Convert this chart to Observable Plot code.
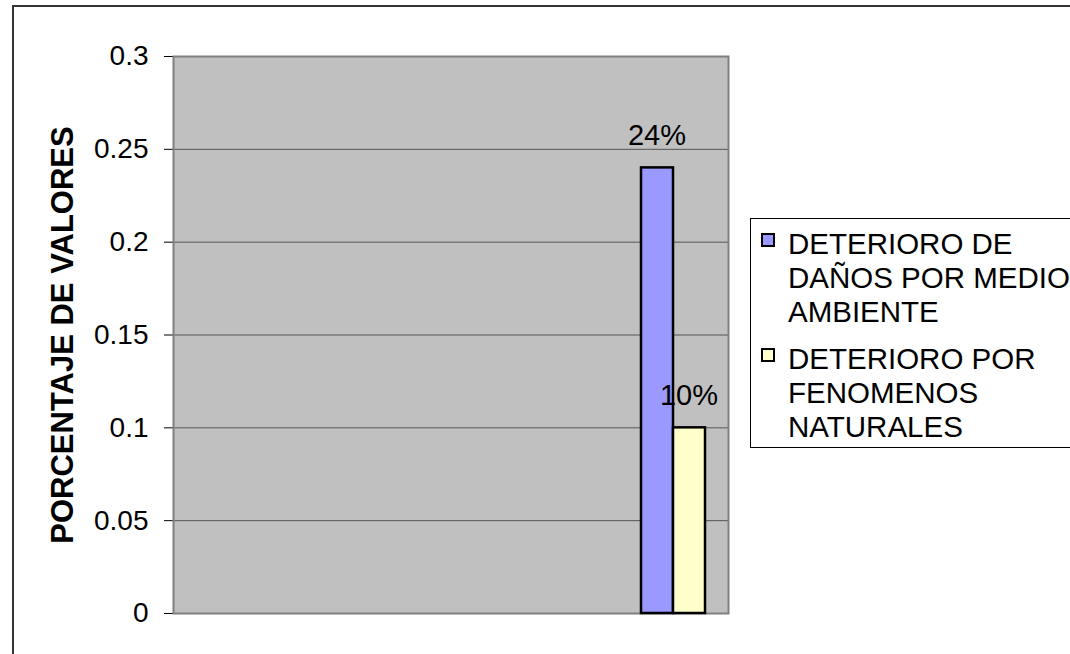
<!DOCTYPE html>
<html><head><meta charset="utf-8">
<script src="https://cdn.jsdelivr.net/npm/d3@7"></script>
<script src="https://cdn.jsdelivr.net/npm/@observablehq/plot@0.6"></script>
<style>
body{margin:0;background:#fff;font-family:"Liberation Sans",Arial,sans-serif;}
#wrap{position:relative;width:1070px;height:654px;overflow:hidden;background:#fff;}
#border{position:absolute;left:12px;top:5px;width:1100px;height:700px;border:2px solid #333;}
#chart{position:absolute;left:0;top:0;}
#legend{position:absolute;left:750px;top:218px;width:340px;height:228px;border:1px solid #000;background:#fff;}
.item{position:absolute;left:0;}
.sw{position:absolute;left:10px;width:10px;height:10px;border:2px solid #000;}
.lt{position:absolute;left:37px;width:292px;font-size:29.5px;line-height:34px;color:#000;}
</style>
</head><body>
<div id="wrap"><div id="border"></div><div id="chart"></div><div id="legend"></div></div>
<script>
const categories = ["1", "2", "3", "4", "5"];
const seriesNames = ["DETERIORO DE DAÑOS POR MEDIO AMBIENTE", "DETERIORO POR FENOMENOS NATURALES"];
const danosMedioAmbiente = [null, null, null, null, 0.24];
const fenomenosNaturales = [null, null, null, null, 0.10];
const yTicks = [0, 0.05, 0.1, 0.15, 0.2, 0.25, 0.3];
const yLabel = "PORCENTAJE DE VALORES";
const seriesColors = ["#9999ff", "#ffffcc"];

const rowsA = categories.map((c, i) => ({category: c, value: danosMedioAmbiente[i]})).filter(d => d.value != null);
const rowsB = categories.map((c, i) => ({category: c, value: fenomenosNaturales[i]})).filter(d => d.value != null);
const pct = d => Math.round(d.value * 100) + "%";

const chart = Plot.plot({
  width: 1070, height: 654,
  marginLeft: 173, marginRight: 342, marginTop: 56, marginBottom: 41,
  style: {fontFamily: '"Liberation Sans", Arial, sans-serif', fontSize: "28px", background: "transparent", color: "#000", overflow: "visible"},
  x: {domain: categories, padding: 0, axis: null},
  y: {domain: [0, 0.3], ticks: yTicks, tickFormat: d => String(+d.toFixed(2)), tickSize: 9, tickPadding: 16, label: null},
  marks: [
    Plot.frame({fill: "#c0c0c0"}),
    Plot.ruleY(yTicks.slice(1, -1), {stroke: "#555", strokeWidth: 1}),
    Plot.frame({stroke: "#808080", strokeWidth: 2}),
    Plot.barY(rowsA, {x: "category", y: "value", fill: seriesColors[0], stroke: "#000", strokeWidth: 2.5, insetLeft: 24, insetRight: 55}),
    Plot.barY(rowsB, {x: "category", y: "value", fill: seriesColors[1], stroke: "#000", strokeWidth: 2.5, insetLeft: 56, insetRight: 23}),
    Plot.text(rowsA, {x: "category", y: "value", text: pct, dx: -16, dy: -32, fontSize: 29, fill: "#000"}),
    Plot.text(rowsB, {x: "category", y: "value", text: pct, dx: 16, dy: -32, fontSize: 29, fill: "#000"}),
    Plot.text([yLabel], {frameAnchor: "left", textAnchor: "middle", dx: -110, rotate: -90, text: d => d, fontWeight: "bold", fontSize: 31, fill: "#000"})
  ]
});
document.getElementById("chart").appendChild(chart);

const legend = document.getElementById("legend");
const itemTops = [8, 123];
seriesNames.forEach((name, i) => {
  const item = document.createElement("div");
  item.className = "item";
  item.style.top = itemTops[i] + "px";
  const sw = document.createElement("div");
  sw.className = "sw";
  sw.style.top = "6px";
  sw.style.background = seriesColors[i];
  const lt = document.createElement("div");
  lt.className = "lt";
  lt.style.top = "0px";
  lt.textContent = name;
  item.appendChild(sw);
  item.appendChild(lt);
  legend.appendChild(item);
});
</script>
</body></html>
